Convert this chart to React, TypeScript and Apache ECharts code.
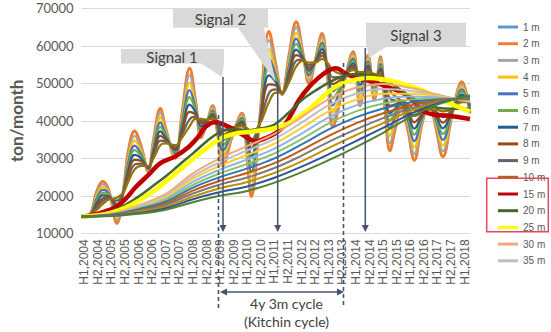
import React, { useEffect, useRef } from "react";
import * as echarts from "echarts";

const X_LABELS = [
  "H1,2004","H2,2004","H1,2005","H2,2005","H1,2006","H2,2006","H1,2007","H2,2007",
  "H1,2008","H2,2008","H1,2009","H2,2009","H1,2010","H2,2010","H1,2011","H2,2011",
  "H1,2012","H2,2012","H1,2013","H2,2013","H1,2014","H2,2014","H1,2015","H2,2015",
  "H1,2016","H2,2016","H1,2017","H2,2017","H1,2018",
];
const X_TICKS = X_LABELS.map((_, i) => i);

// x positions in half-year units (0 = H1,2004)
const U_OSC = [-0.2,0.4,0.9,1.35,1.8,2.4,2.9,3.2,3.7,4.2,4.7,5.1,5.6,5.95,6.7,7.2,7.75,8.2,8.6,9.0,9.45,9.8,10.2,10.9,11.6,12.0,12.3,12.9,13.6,14.1,14.55,15.1,15.6,16.1,16.55,17.0,17.5,17.9,18.3,19.0,19.8,20.3,20.9,21.35,21.8,22.15,22.5,22.9,23.3,23.8,24.3,24.85,25.4,25.9,26.4,27.1,27.8,28.4];

const S1M = [14500,15000,21000,23800,21500,12700,22000,31000,37300,33000,26500,35000,43300,38500,30000,42000,54000,45000,35500,39000,44000,37000,28000,36000,42000,30000,19800,40000,63800,55000,47000,58000,66400,58000,50000,56000,63300,52000,38500,48000,58400,44000,57500,45500,57100,43000,32000,38000,43500,38000,29500,39000,44700,38000,30400,42000,50400,42000];
const S2M = [14500,15000,21000,23800,21500,12700,22000,31000,37300,33000,26500,35000,43300,38500,30000,42000,54000,45000,35500,39000,44000,37000,28000,36000,42000,30000,19800,40000,63800,55000,47000,58000,66400,58000,50000,56000,63300,52000,38500,48000,58400,44000,57500,45500,57100,43000,32000,38000,43500,38000,29500,39000,44700,38000,30400,42000,50400,42000];
const S3M = [14500,15000,20400,23100,21200,13600,21900,30100,36000,32400,26700,34400,42100,37900,30400,41200,52100,44400,36100,39200,43600,37400,29400,36300,41600,31000,22000,39900,61500,54100,47100,57100,64900,57800,50700,55900,62500,52400,40400,48600,57800,45100,56900,46400,56500,43900,34000,39100,43800,38800,31200,39400,44500,38600,31900,42100,49700,42400];
const S4M = [14500,14900,19800,22300,20900,14400,21800,29100,34700,31800,26900,33800,40900,37400,30900,40400,50100,43900,36800,39300,43100,37800,30800,36600,41100,32000,24100,39800,59100,53100,47100,56100,63400,57500,51400,55900,61600,52900,42300,49100,57200,46300,56400,47300,55800,44900,36000,40100,44000,39600,32900,39900,44300,39300,33400,42300,49100,42800];
const S5M = [14500,14900,19200,21600,20600,15300,21600,28200,33400,31100,27100,33100,39600,36800,31300,39600,48200,43300,37400,39500,42700,38100,32100,36900,40700,33000,26300,39600,56800,52200,47200,55200,61900,57300,52100,55800,60800,53300,44100,49700,56600,47400,55800,48100,55200,45800,38000,41200,44300,40400,34600,40300,44100,39900,34900,42400,48400,43100];
const S6M = [14500,14900,18600,20800,20300,16100,21500,27300,32200,30500,27300,32500,38400,36300,31800,38800,46300,42800,38000,39700,42300,38500,33500,37100,40300,34000,28400,39500,54400,51300,47300,54300,60500,57000,52800,55800,59900,53800,46000,50300,56000,48500,55300,49000,54600,46800,40000,42300,44500,41300,36300,40800,43900,40500,36500,42500,47700,43500];
const S7M = [14500,14800,18000,20100,19900,17000,21400,26300,30900,29900,27400,31900,37200,35700,32200,37900,44300,42200,38600,39800,41800,38900,34900,37400,39800,35000,30600,39400,52100,50300,47300,53300,59000,56800,53400,55700,59100,54200,47900,50800,55300,49600,54700,49900,53900,47700,42000,43300,44800,42100,37900,41200,43600,41100,38000,42600,47000,43900];
const S8M = [14500,14800,17400,19300,19600,17800,21300,25400,29600,29300,27600,31300,36000,35100,32600,37100,42400,41600,39300,40000,41400,39300,36300,37700,39400,36000,32700,39300,49700,49400,47400,52400,57500,56500,54100,55600,58200,54600,49800,51400,54700,50800,54100,50800,53300,48600,44000,44400,45000,42900,39600,41600,43400,41800,39500,42800,46400,44300];
const S9M = [14500,14700,16800,18600,19300,18700,21100,24400,28300,28600,27800,30600,34700,34600,33100,36300,40400,41100,39900,40100,40900,39600,37600,38000,38900,37000,34900,39100,47400,48400,47400,51400,56000,56300,54800,55600,57400,55100,51600,51900,54100,51900,53600,51600,52600,49600,46000,45400,45300,43700,41300,42100,43200,42400,41000,42900,45700,44600];
const S10M = [14500,14700,16200,17800,19000,19500,21000,23500,27000,28000,28000,30000,33500,34000,33500,35500,38500,40500,40500,40300,40500,40000,39000,38300,38500,38000,37000,39000,45000,47500,47500,50500,54500,56000,55500,55500,56500,55500,53500,52500,53500,53000,53000,52500,52000,50500,48000,46500,45500,44500,43000,42500,43000,43000,42500,43000,45000,45000];

const RED_U = [-0.2,0.5,1.5,2.4,3.2,3.7,4.7,5.6,6.7,7.7,8.4,8.9,9.6,10.4,11.2,12.0,12.6,13.3,14.0,14.6,15.2,15.8,16.5,17.2,17.9,18.5,19.3,20.0,20.8,21.6,22.5,23.5,24.3,25.0,25.8,26.6,27.4,28.4];
const S15M = [14500,14800,15800,17100,19800,22000,25500,28700,30500,33100,35800,38300,39600,38800,37300,35500,34500,35300,36500,38200,41500,45500,48800,51300,53200,54000,52500,51400,50800,50000,48800,47300,45000,42500,41600,41400,41100,40500];

const STEP_U = [-0.2,1,2,3,4,5,6,7,8,9,10,11,12,13,14,15,16,17,18,19,20,21,22,23,24,25,26,27,28.4];
const S20M = [14500,14900,15800,17500,19800,22500,25200,28300,31300,34500,37000,37800,37500,38000,39000,42000,45500,48000,50200,51800,52500,52300,51200,49000,46500,44600,43500,43200,43300];
const S25M = [14500,14800,15500,16800,18700,21000,23800,26800,29800,32700,35200,36500,37000,37400,38000,39300,41500,44500,47800,50000,51000,51400,51000,50300,49200,48000,46300,44500,42500];

const LONG_U = [-0.2,2,4,6,8,10,12,14,16,18,20,22,24,26,28.4];
const S30M = [14500,15300,17500,20500,26000,30000,33300,36500,41000,45800,48800,49800,48800,47000,45000];
const S35M = [14500,15200,17300,20100,25200,29000,32100,35200,39500,44200,47200,48500,48000,46700,45200];
const S40M = [14500,15200,17000,19700,24500,28000,30900,33900,38100,42500,45600,47200,47200,46500,45400];
const S45M = [14500,15100,16800,19200,23700,27000,29700,32600,36600,40900,44100,45900,46500,46200,45500];
const S50M = [14500,15000,16600,18800,22900,26000,28500,31300,35100,39300,42500,44600,45700,45900,45700];
const S55M = [14500,15000,16400,18400,22200,25000,27300,30000,33700,37700,40900,43300,44900,45700,45900];
const S60M = [14500,14900,16100,18000,21400,24000,26100,28700,32200,36000,39300,42000,44100,45400,46100];
const S65M = [14500,14800,15900,17600,20600,23000,24900,27400,30700,34400,37700,40700,43300,45100,46300];
const S70M = [14500,14700,15700,17100,19800,22000,23700,26100,29200,32800,36200,39400,42600,44800,46400];
const S75M = [14500,14700,15400,16700,19100,21000,22500,24800,27800,31100,34600,38100,41800,44600,46600];
const S80M = [14500,14600,15200,16300,18300,20000,21300,23500,26300,29500,33000,36800,41000,44300,46800];

const LEGEND_NAMES = ["1 m","2 m","3 m","4 m","5 m","6 m","7 m","8 m","9 m","10 m","15 m","20 m","25 m","30 m","35 m"];

const pts = (xs: number[], ys: number[]) =>
  xs.map((x, i) => [x, ys[i]]).filter((p) => p[1] !== undefined);

type SDef = { name: string; xs: number[]; ys: number[]; color: string; width: number };

const SERIES_DEFS: SDef[] = [
  { name: "1 m", xs: U_OSC, ys: S1M, color: "#5B9BD5", width: 2 },
  { name: "2 m", xs: U_OSC, ys: S2M, color: "#ED7D31", width: 3 },
  { name: "3 m", xs: U_OSC, ys: S3M, color: "#A5A5A5", width: 2.2 },
  { name: "4 m", xs: U_OSC, ys: S4M, color: "#FFC000", width: 2.2 },
  { name: "5 m", xs: U_OSC, ys: S5M, color: "#4472C4", width: 2.2 },
  { name: "6 m", xs: U_OSC, ys: S6M, color: "#70AD47", width: 2.2 },
  { name: "7 m", xs: U_OSC, ys: S7M, color: "#255E91", width: 2.2 },
  { name: "8 m", xs: U_OSC, ys: S8M, color: "#9E480E", width: 2.2 },
  { name: "9 m", xs: U_OSC, ys: S9M, color: "#636363", width: 2.2 },
  { name: "10 m", xs: U_OSC, ys: S10M, color: "#997300", width: 2.2 },
  { name: "15 m", xs: RED_U, ys: S15M, color: "#C00000", width: 4.5 },
  { name: "20 m", xs: STEP_U, ys: S20M, color: "#43682B", width: 2.5 },
  { name: "25 m", xs: STEP_U, ys: S25M, color: "#FFFF00", width: 4.5 },
  { name: "30 m", xs: LONG_U, ys: S30M, color: "#F4A77A", width: 2 },
  { name: "35 m", xs: LONG_U, ys: S35M, color: "#BFBFBF", width: 2 },
  { name: "40 m", xs: LONG_U, ys: S40M, color: "#FFCD33", width: 2 },
  { name: "45 m", xs: LONG_U, ys: S45M, color: "#8FB4E3", width: 2 },
  { name: "50 m", xs: LONG_U, ys: S50M, color: "#8CC168", width: 2 },
  { name: "55 m", xs: LONG_U, ys: S55M, color: "#2E75B6", width: 2 },
  { name: "60 m", xs: LONG_U, ys: S60M, color: "#C55A11", width: 2 },
  { name: "65 m", xs: LONG_U, ys: S65M, color: "#7B7B7B", width: 2 },
  { name: "70 m", xs: LONG_U, ys: S70M, color: "#BF9000", width: 2 },
  { name: "75 m", xs: LONG_U, ys: S75M, color: "#2F5597", width: 2 },
  { name: "80 m", xs: LONG_U, ys: S80M, color: "#548235", width: 2 },
];

const SLATE = "#44546A";
const CALLOUT = "#D9D9D9";
const TXT = "#404040";
const FONT = "Lato, 'Open Sans', sans-serif";
const AXIS_FONT = "'Liberation Sans', Arial, sans-serif";

function downArrow(x: number, y1: number, y2: number) {
  return [
    { type: "line", z: 100, shape: { x1: x, y1, x2: x, y2: y2 - 6 }, style: { stroke: SLATE, lineWidth: 1.5 } },
    { type: "polygon", z: 100, shape: { points: [[x - 3.5, y2 - 7], [x + 3.5, y2 - 7], [x, y2]] }, style: { fill: SLATE } },
  ];
}

export default function App() {
  const ref = useRef<HTMLDivElement>(null);
  useEffect(() => {
    if (!ref.current) return;
    const chart = echarts.init(ref.current, undefined, { renderer: "svg" });
    const series = SERIES_DEFS.map((s) => ({
      name: s.name,
      type: "line",
      data: pts(s.xs, s.ys),
      smooth: 0.4,
      showSymbol: false,
      symbol: "none",
      color: s.color,
      lineStyle: { color: s.color, width: s.width },
      emphasis: { disabled: true },
      silent: true,
      clip: false,
    }));

    const graphic: any[] = [
      { type: "polygon", z: 90, shape: { points: [[121, 49], [224, 49], [224, 63.5], [222, 77], [201, 63.5], [121, 63.5]] }, style: { fill: CALLOUT } },
      { type: "polygon", z: 90, shape: { points: [[173, 8.3], [268, 8.3], [268, 27.7], [264, 27.7], [275.5, 82], [238, 27.7], [173, 27.7]] }, style: { fill: CALLOUT } },
      { type: "polygon", z: 90, shape: { points: [[366, 22.7], [466, 22.7], [466, 47], [386, 47], [369, 58], [367, 47], [366, 47]] }, style: { fill: CALLOUT } },
      { type: "text", z: 101, x: 172, y: 56.5, style: { text: "Signal 1", fill: TXT, font: `15px ${FONT}`, align: "center", verticalAlign: "middle" } },
      { type: "text", z: 101, x: 220.5, y: 18.5, style: { text: "Signal 2", fill: TXT, font: `15px ${FONT}`, align: "center", verticalAlign: "middle" } },
      { type: "text", z: 101, x: 416, y: 35, style: { text: "Signal 3", fill: TXT, font: `15px ${FONT}`, align: "center", verticalAlign: "middle" } },
      ...downArrow(223, 77, 232),
      ...downArrow(277.7, 82, 232),
      ...downArrow(365.3, 48, 232),
      { type: "line", z: 100, shape: { x1: 218.5, y1: 115, x2: 218.5, y2: 309 }, style: { stroke: SLATE, lineWidth: 1.6, lineDash: [4, 3] } },
      { type: "line", z: 100, shape: { x1: 343.5, y1: 63, x2: 343.5, y2: 305 }, style: { stroke: SLATE, lineWidth: 1.6, lineDash: [4, 3] } },
      { type: "line", z: 100, shape: { x1: 226, y1: 292, x2: 338, y2: 292 }, style: { stroke: SLATE, lineWidth: 1.5 } },
      { type: "polygon", z: 100, shape: { points: [[220, 292], [227, 288.5], [227, 295.5]] }, style: { fill: SLATE } },
      { type: "polygon", z: 100, shape: { points: [[344, 292], [337, 288.5], [337, 295.5]] }, style: { fill: SLATE } },
      { type: "text", z: 101, x: 286.5, y: 303.5, style: { text: "4y 3m cycle", fill: TXT, font: `14px ${FONT}`, align: "center", verticalAlign: "middle" } },
      { type: "text", z: 101, x: 286.5, y: 321, style: { text: "(Kitchin cycle)", fill: TXT, font: `14px ${FONT}`, align: "center", verticalAlign: "middle" } },
      { type: "rect", z: 100, shape: { x: 486.7, y: 178.3, width: 61.6, height: 53.4 }, style: { fill: "none", stroke: "#E8455C", lineWidth: 1.5 } },
    ];

    chart.setOption({
      animation: false,
      backgroundColor: "#ffffff",
      grid: { left: 70, right: 81, top: 8.3, bottom: 98.7, containLabel: false },
      legend: {
        orient: "vertical",
        left: 493,
        top: 15,
        itemWidth: 20,
        itemHeight: 3,
        itemGap: 2.7,
        icon: "rect",
        selectedMode: false,
        data: LEGEND_NAMES,
        textStyle: { fontFamily: AXIS_FONT, fontSize: 10, color: "#595959", lineHeight: 14 },
      },
      xAxis: {
        type: "value",
        min: -0.2,
        max: 28.4,
        axisLine: { show: false },
        axisTick: { show: false },
        splitLine: { show: false },
        axisLabel: {
          customValues: X_TICKS,
          formatter: (v: number) => X_LABELS[Math.round(v)] ?? "",
          rotate: 90,
          margin: 6,
          fontFamily: AXIS_FONT,
          fontSize: 12,
          color: "#595959",
        },
      },
      yAxis: {
        type: "value",
        min: 10000,
        max: 70000,
        interval: 10000,
        name: "ton/month",
        nameLocation: "middle",
        nameGap: 50,
        nameRotate: 90,
        nameTextStyle: { fontFamily: FONT, fontWeight: "bold", fontSize: 17, color: "#595959" },
        axisLine: { show: false },
        axisTick: { show: false },
        axisLabel: {
          margin: 8,
          fontFamily: FONT,
          fontSize: 13,
          color: "#595959",
          formatter: (v: number) => String(v),
        },
        splitLine: { lineStyle: { color: "#D9D9D9", width: 1 } },
      },
      series,
      graphic,
    });
    return () => chart.dispose();
  }, []);
  return <div ref={ref} style={{ position: "fixed", left: 0, top: 0, width: 551, height: 332 }} />;
}
